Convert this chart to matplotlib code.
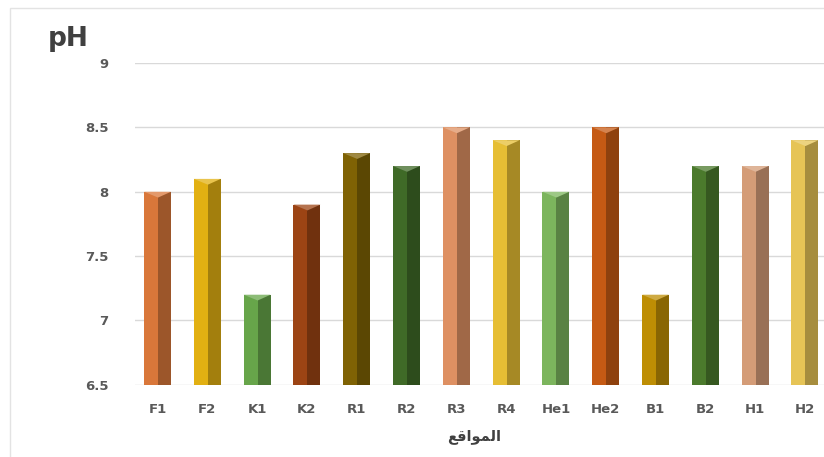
import matplotlib
matplotlib.use("Agg")
import matplotlib.pyplot as plt
from matplotlib.patches import Polygon, Rectangle
from matplotlib.colors import to_rgb

sites = ["F1", "F2", "K1", "K2", "R1", "R2", "R3", "R4", "He1", "He2", "B1", "B2", "H1", "H2"]
ph_values = [8.0, 8.1, 7.2, 7.9, 8.3, 8.2, 8.5, 8.4, 8.0, 8.5, 7.2, 8.2, 8.2, 8.4]
bar_colors = ["#D9773A", "#E2B012", "#67A54A", "#9C4414", "#7F6204", "#3F6A27", "#DE9062",
              "#E6BE34", "#7CB55D", "#C55A14", "#BE8E04", "#4B7A2C", "#D49C77", "#E6C456"]
y_ticks = [6.5, 7, 7.5, 8, 8.5, 9]
y_tick_labels = ["6.5", "7", "7.5", "8", "8.5", "9"]
# "المواقع" written in shaped presentation forms (visual order) for LTR rendering
x_title = "\uFECA\uFED7\uFE8D\uFEEE\uFEE4\uFEDF\uFE8D"
y_title = "pH"

base = 6.5
width = 0.54


def shade(color, f):
    r, g, b = to_rgb(color)
    return (r * f, g * f, b * f)


def tint(color, f):
    r, g, b = to_rgb(color)
    return (r + (1 - r) * f, g + (1 - g) * f, b + (1 - b) * f)


fig = plt.figure(figsize=(8.24, 4.57), dpi=100)
ax = fig.add_axes([0.164, 0.158, 0.84, 0.704])

ax.set_ylim(6.5, 9)
ax.set_xlim(-0.45, 13.45)
ax.set_yticks(y_ticks)
ax.set_yticklabels(y_tick_labels)
ax.set_xticks(range(len(sites)))
ax.set_xticklabels(sites)

for y in y_ticks:
    ax.axhline(y, color="#D9D9D9", lw=1.0, zorder=0)

for i, (v, c) in enumerate(zip(ph_values, bar_colors)):
    left = i - width / 2
    split = i + width * 0.02
    # lit front face
    ax.bar(i, v - base, bottom=base, width=width, color=c, zorder=2, linewidth=0)
    # shaded side face
    ax.bar(split, v - base, bottom=base, width=(i + width / 2) - split, align="edge",
           color=shade(c, 0.72), zorder=3, linewidth=0)
    # bevelled top cap
    cap = Polygon([(left, v), (i + width / 2, v), (split, v - 0.045)], closed=True,
                  facecolor=tint(c, 0.25), edgecolor="none", zorder=4)
    ax.add_patch(cap)

for s in ax.spines.values():
    s.set_visible(False)

ax.tick_params(axis="both", length=0, colors="#595959")
ax.tick_params(axis="y", pad=19)
ax.tick_params(axis="x", pad=13)
for lbl in ax.get_xticklabels() + ax.get_yticklabels():
    lbl.set_fontweight("bold")
    lbl.set_fontsize(9.5)
    lbl.set_color("#595959")

fig.text(0.575, 0.044, x_title, ha="center", va="center", fontsize=10.5,
         fontweight="bold", color="#404040", family=["DejaVu Sans"])
fig.text(0.058, 0.915, y_title, ha="left", va="center", fontsize=19,
         fontweight="bold", color="#404040")

# chart area frame
fig.patches.append(Rectangle((0.012, -0.05), 1.2, 1.032, transform=fig.transFigure,
                             fill=False, edgecolor="#E3E3E3", lw=1.0))

fig.savefig("out.png", dpi=100)
